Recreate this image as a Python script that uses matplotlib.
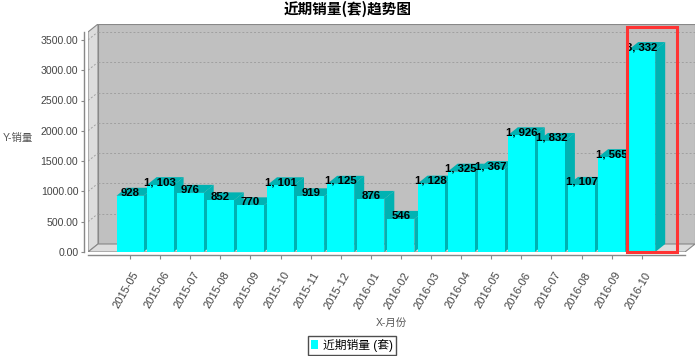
import matplotlib
matplotlib.use("Agg")
import matplotlib.pyplot as plt
from matplotlib.patches import Polygon, Rectangle, Patch
from matplotlib.transforms import ScaledTranslation

plt.rcParams['font.family'] = ['Liberation Sans', 'Noto Sans CJK SC', 'DejaVu Sans']

months = ['2015-05', '2015-06', '2015-07', '2015-08', '2015-09', '2015-10',
          '2015-11', '2015-12', '2016-01', '2016-02', '2016-03', '2016-04',
          '2016-05', '2016-06', '2016-07', '2016-08', '2016-09', '2016-10']
sales = [928, 1103, 976, 852, 770, 1101, 919, 1125, 876, 546,
         1128, 1325, 1367, 1926, 1832, 1107, 1565, 3332]
yticks = [0, 500, 1000, 1500, 2000, 2500, 3000, 3500]

title = '近期销量(套)趋势图'
series_name = '近期销量 (套)'
xlabel = 'X-月份'
ylabel = 'Y-销量'

W, H = 700, 356
fig = plt.figure(figsize=(W / 100, H / 100), dpi=100)

# pixel geometry of the 3d box (front-left 88, back-right 695, bottom 252, top 24)
px_x = 30.1            # pixels per category
px_y = 30.3 / 500      # pixels per unit value
left_px, right_px, bot_px, top_px = 88, 695, 252, 24
x0_px = 130            # centre of first bar

ax = fig.add_axes([left_px / W, 1 - bot_px / H,
                   (right_px - left_px) / W, (bot_px - top_px) / H])
xl = (left_px - x0_px) / px_x
xr = (right_px - x0_px) / px_x
ymax = (bot_px - top_px) / px_y
ax.set_xlim(xl, xr)
ax.set_ylim(0, ymax)

dx = 10 / px_x
dy = 8 / px_y
wall = '#c0c0c0'
side_wall = '#dcdcdc'
edge = '#888888'

# back wall, left wall, floor
ax.add_patch(Rectangle((xl + dx, dy), xr - xl - dx, ymax - dy, fc=wall, ec=edge, lw=0.8, zorder=0))
ax.add_patch(Polygon([(xl, 0), (xl + dx, dy), (xl + dx, ymax), (xl, ymax - dy)],
                     closed=True, fc=side_wall, ec=edge, lw=0.8, zorder=0))
ax.add_patch(Polygon([(xl, 0), (xr - dx, 0), (xr, dy), (xl + dx, dy)],
                     closed=True, fc=side_wall, ec=edge, lw=0.8, zorder=0))

# gridlines on the walls
for v in yticks[1:]:
    ax.plot([xl + dx, xr], [v + dy, v + dy], color='#a0a0a0', lw=0.7,
            dashes=(2, 2), zorder=1)
    ax.plot([xl, xl + dx], [v, v + dy], color='#a0a0a0', lw=0.7,
            dashes=(2, 2), zorder=1)

# 3d bars
bw = 27 / px_x
front = '#00ffff'
shade = '#00b2b2'
for i, v in enumerate(sales):
    z = 2 + i
    l, r = i - bw / 2, i + bw / 2
    ax.add_patch(Polygon([(r, 0), (r + dx, dy), (r + dx, v + dy), (r, v)],
                         closed=True, fc=shade, ec='none', zorder=z))
    ax.add_patch(Polygon([(l, v), (l + dx, v + dy), (r + dx, v + dy), (r, v)],
                         closed=True, fc=shade, ec='none', zorder=z))
    ax.bar(i, v, width=bw, color=front, zorder=z + 0.5)
    ax.text(i, v, f'{v:,}'.replace(',', ', '), ha='center', va='baseline',
            fontsize=8.2, fontweight='bold', color='black', zorder=40)

# highlight box round the last month
last = len(sales) - 1
ax.add_patch(Rectangle((last - 0.49, 0), 1.66, 3713, fill=False, ec='#ff3333',
                       lw=2.2, zorder=50, clip_on=False))

# axes
for s in ['top', 'right']:
    ax.spines[s].set_visible(False)
ax.spines['left'].set_position(('outward', 3))
ax.spines['left'].set_bounds(0, ymax - dy)
ax.spines['bottom'].set_position(('outward', 2))
ax.spines['bottom'].set_bounds(xl, xr - dx)
for s in ['left', 'bottom']:
    ax.spines[s].set_color(edge)
    ax.spines[s].set_linewidth(1.0)

ax.set_yticks(yticks)
ax.set_yticklabels([f'{v:.2f}' for v in yticks])
ax.tick_params(axis='y', length=2, color=edge, labelsize=7.6,
               labelcolor='#444444', pad=2)
ax.set_xticks(range(len(months)))
ax.set_xticklabels(months, rotation=60, ha='center')
ax.tick_params(axis='x', length=3, color=edge, labelsize=8,
               labelcolor='#444444', pad=8)
for lab in ax.get_xticklabels():
    lab.set_transform(lab.get_transform() + ScaledTranslation(-3.5 / 100, 0, fig.dpi_scale_trans))

fig.text(348 / W, 1 - 9 / H, title, ha='center', va='center',
         fontsize=10.5, fontweight='bold', family=['Noto Sans CJK SC', 'DejaVu Sans'])
fig.text(3 / W, 1 - 138 / H, ylabel, ha='left', va='center', fontsize=7.5,
         color='#555555')
fig.text(391 / W, 1 - 323 / H, xlabel, ha='center', va='center', fontsize=7.5,
         color='#555555')

leg = fig.legend(handles=[Patch(fc=front, ec='none', label=series_name)],
                 loc='center', bbox_to_anchor=(352 / W, 1 - 345.5 / H),
                 fontsize=8.5, frameon=True, fancybox=False, handlelength=0.6,
                 handleheight=0.8, handletextpad=0.4, borderpad=0.25,
                 borderaxespad=0)
leg.get_frame().set_edgecolor('#222222')
leg.get_frame().set_linewidth(1.0)

fig.savefig('out.png', dpi=100)
